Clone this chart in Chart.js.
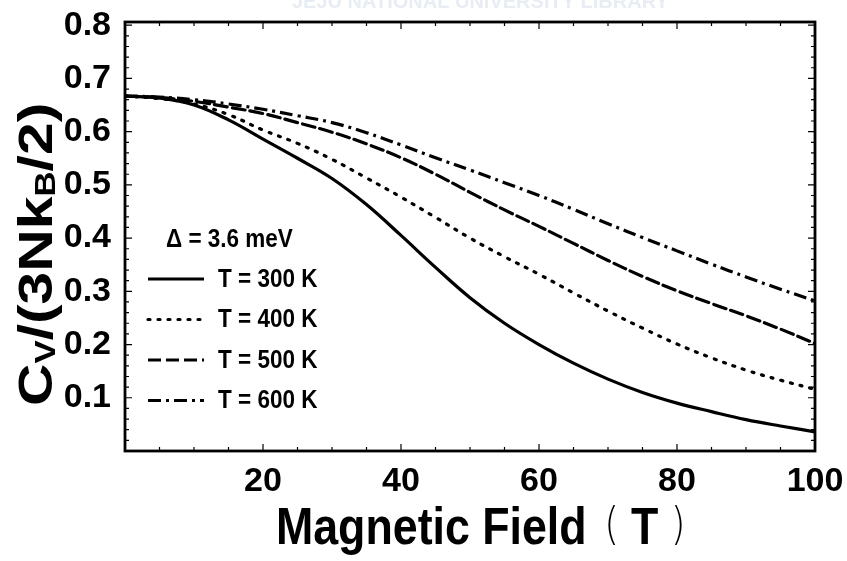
<!DOCTYPE html>
<html lang="en">
<head>
  <meta charset="UTF-8" />
  <title>Specific heat vs magnetic field</title>
  <script src="https://cdn.jsdelivr.net/npm/chart.js"></script>
  <style>
    * { margin: 0; padding: 0; box-sizing: border-box; }
    body { background: #ffffff; width: 847px; height: 561px; overflow: hidden; }
    canvas { display: block; }
  </style>
</head>
<body>
  <canvas id="cvChart" width="847" height="561"></canvas>

  <script>
    // magnetic field in tesla
    const field = [0, 5, 10, 15, 20, 25, 30, 35, 40, 45, 50, 55, 60, 65, 70, 75, 80, 85, 90, 95, 100];

    // Cv / (3 N kB / 2) for delta = 3.6 meV
    const cv300 = [0.667, 0.663, 0.650, 0.622, 0.586, 0.550, 0.512, 0.463, 0.405, 0.345, 0.288, 0.240, 0.200, 0.165, 0.135, 0.110, 0.090, 0.074, 0.059, 0.047, 0.036];
    const cv400 = [0.667, 0.662, 0.652, 0.632, 0.603, 0.578, 0.548, 0.513, 0.477, 0.439, 0.400, 0.365, 0.332, 0.297, 0.263, 0.231, 0.201, 0.175, 0.152, 0.133, 0.116];
    const cv500 = [0.667, 0.664, 0.657, 0.646, 0.634, 0.617, 0.599, 0.577, 0.551, 0.520, 0.486, 0.453, 0.422, 0.390, 0.358, 0.328, 0.301, 0.277, 0.254, 0.229, 0.202];
    const cv600 = [0.667, 0.665, 0.660, 0.652, 0.642, 0.630, 0.617, 0.598, 0.575, 0.551, 0.528, 0.504, 0.480, 0.454, 0.427, 0.401, 0.376, 0.351, 0.327, 0.304, 0.282];

    const xTicks = [20, 40, 60, 80, 100];
    const yTicks = [0.1, 0.2, 0.3, 0.4, 0.5, 0.6, 0.7, 0.8];

    const legendTitle = 'Δ = 3.6 meV';
    const seriesLabels = ['T = 300 K', 'T = 400 K', 'T = 500 K', 'T = 600 K'];
    const seriesDash = [[], [2, 8], [13, 5], [13, 5, 3, 5]];

    const sans = '"Liberation Sans", Arial, sans-serif';

    function toPoints(ys) {
      return field.map((x, i) => ({ x: x, y: ys[i] }));
    }

    function dataset(label, ys, dash) {
      return {
        label: label,
        data: toPoints(ys),
        borderColor: '#000',
        borderWidth: 3.2,
        borderDash: dash,
        borderCapStyle: dash.length === 2 ? 'round' : 'butt',
        pointRadius: 0,
        tension: 0.4,
        fill: false
      };
    }

    // draws a run of text squeezed horizontally
    function squeezed(ctx, text, x, y, sx) {
      ctx.save();
      ctx.translate(x, y);
      ctx.scale(sx, 1);
      ctx.fillText(text, 0, 0);
      ctx.restore();
    }

    // frame, inward ticks, inset legend and axis titles
    const decorations = {
      id: 'decorations',
      afterDraw(chart) {
        const { ctx, chartArea: a, scales } = chart;
        const xs = scales.x, ys = scales.y;
        ctx.save();

        // faint library stamp along the top edge
        ctx.fillStyle = '#e8edf4';
        ctx.font = 'bold 20px ' + sans;
        ctx.textBaseline = 'middle';
        ctx.textAlign = 'left';
        ctx.fillText('JEJU NATIONAL UNIVERSITY LIBRARY', 292, 2);

        ctx.strokeStyle = '#000';
        ctx.lineWidth = 2.8;
        ctx.strokeRect(a.left, a.top, a.right - a.left, a.bottom - a.top);

        ctx.lineWidth = 1.2;
        ctx.beginPath();
        for (let v = 5; v < 100; v += 5) {
          const px = xs.getPixelForValue(v);
          const len = v % 20 === 0 ? 7 : 4;
          ctx.moveTo(px, a.bottom); ctx.lineTo(px, a.bottom - len);
          ctx.moveTo(px, a.top); ctx.lineTo(px, a.top + len);
        }
        for (let k = 1; k < 41; k++) {
          const py = ys.getPixelForValue(k * 0.02);
          const len = k % 5 === 0 ? 7 : 4;
          ctx.moveTo(a.left, py); ctx.lineTo(a.left + len, py);
          ctx.moveTo(a.right, py); ctx.lineTo(a.right - len, py);
        }
        ctx.stroke();

        // legend inside the plot
        ctx.fillStyle = '#000';
        ctx.textBaseline = 'middle';
        ctx.font = 'bold 25px ' + sans;
        squeezed(ctx, legendTitle, 166, 240, 0.9);
        seriesLabels.forEach((lab, i) => {
          const y = 279 + i * 40.5;
          ctx.lineWidth = 3.2;
          ctx.setLineDash(seriesDash[i]);
          ctx.lineCap = i === 1 ? 'round' : 'butt';
          ctx.beginPath();
          ctx.moveTo(148, y); ctx.lineTo(204, y);
          ctx.stroke();
          ctx.setLineDash([]);
          squeezed(ctx, lab, 218, y + 1, 0.9);
        });

        // x axis title
        ctx.save();
        ctx.translate(276, 530);
        ctx.scale(0.86, 1);
        ctx.textBaseline = 'middle';
        ctx.font = 'bold 52px ' + sans;
        ctx.fillText('Magnetic Field', 0, 0);
        let x = ctx.measureText('Magnetic Field ').width + 6;
        ctx.font = '300 44px "DejaVu Sans", sans-serif';
        ctx.fillText('(', x, -2);
        x += ctx.measureText('( ').width;
        ctx.font = 'bold 52px ' + sans;
        ctx.fillText('T', x, 0);
        x += ctx.measureText('T ').width;
        ctx.font = '300 44px "DejaVu Sans", sans-serif';
        ctx.fillText(')', x, -2);
        ctx.restore();

        // y axis title with subscripts, read bottom to top
        ctx.save();
        ctx.translate(38, 406);
        ctx.rotate(-Math.PI / 2);
        ctx.scale(1.2, 1);
        ctx.textBaseline = 'middle';
        const big = 'bold 49px ' + sans;
        const small = 'bold 29px ' + sans;
        const parts = [['C', big, 0], ['V', small, 9], ['/(3Nk', big, 0], ['B', small, 9], ['/2)', big, 0]];
        let pos = 0;
        parts.forEach(([t, f, dy]) => {
          ctx.font = f;
          ctx.fillText(t, pos, dy);
          pos += ctx.measureText(t).width;
        });
        ctx.restore();

        ctx.restore();
      }
    };

    new Chart(document.getElementById('cvChart'), {
      type: 'line',
      data: {
        datasets: [
          dataset(seriesLabels[0], cv300, seriesDash[0]),
          dataset(seriesLabels[1], cv400, seriesDash[1]),
          dataset(seriesLabels[2], cv500, seriesDash[2]),
          dataset(seriesLabels[3], cv600, seriesDash[3])
        ]
      },
      options: {
        responsive: false,
        animation: false,
        layout: { padding: { top: 22, right: 32, left: 0, bottom: 0 } },
        plugins: {
          legend: { display: false },
          tooltip: { enabled: false }
        },
        scales: {
          x: {
            type: 'linear',
            min: 0,
            max: 100,
            afterFit: s => { s.height = 110; s.paddingLeft = 0; s.paddingRight = 0; },
            afterBuildTicks: s => { s.ticks = xTicks.map(v => ({ value: v })); },
            ticks: {
              color: '#000',
              font: { family: sans, size: 34, weight: 'bold' },
              padding: 10,
              maxRotation: 0
            },
            grid: { display: false, drawTicks: false },
            border: { display: false }
          },
          y: {
            type: 'linear',
            min: 0,
            max: 0.806,
            afterFit: s => { s.width = 125; s.paddingTop = 0; s.paddingBottom = 0; },
            afterBuildTicks: s => { s.ticks = yTicks.map(v => ({ value: v })); },
            ticks: {
              color: '#000',
              font: { family: sans, size: 34, weight: 'bold' },
              padding: 14,
              callback: v => v.toFixed(1)
            },
            grid: { display: false, drawTicks: false },
            border: { display: false }
          }
        }
      },
      plugins: [decorations]
    });
  </script>
</body>
</html>
